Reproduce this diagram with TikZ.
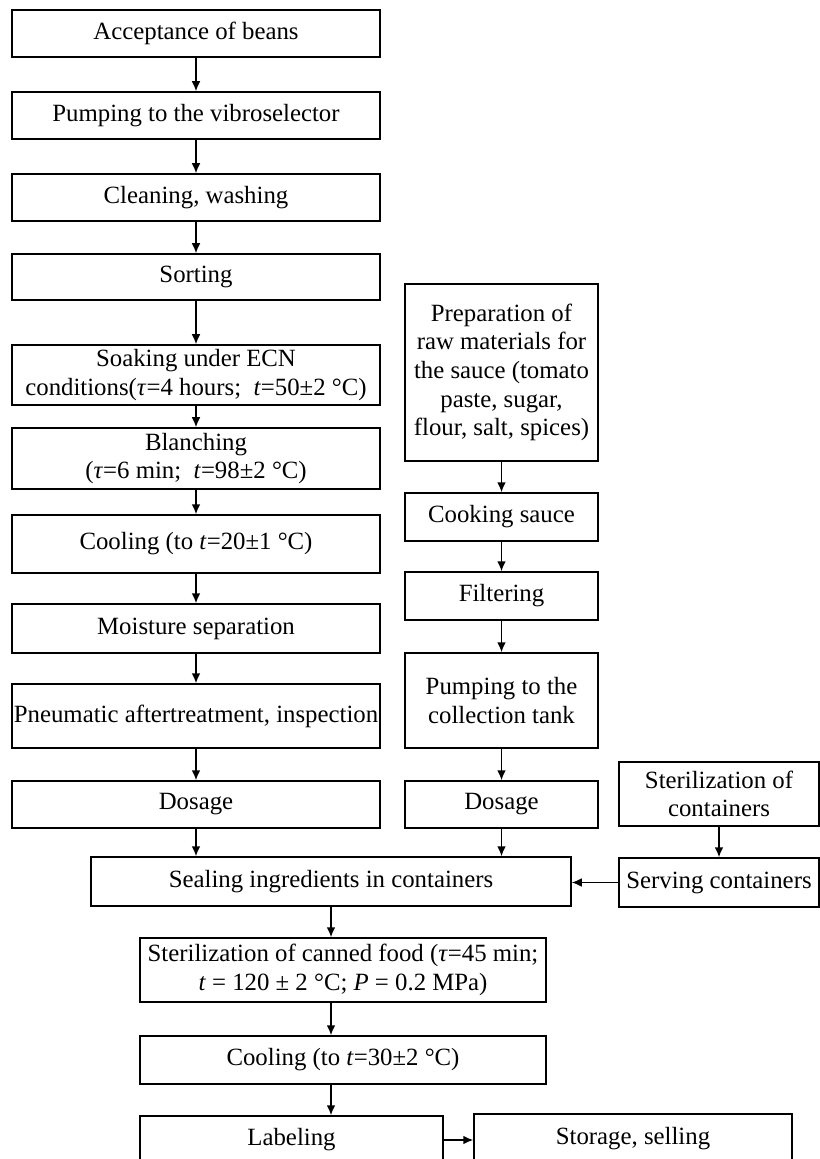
\documentclass[tikz,border=0pt]{standalone}
\usepackage{fontspec}
\setmainfont{Liberation Serif}
\usetikzlibrary{arrows.meta,positioning}

\begin{document}
\begin{tikzpicture}[
    x=0.5pt, y=-0.5pt,
    box/.style={draw, line width=0.75pt, align=center, font=\fontsize{12.4}{14.3}\selectfont,
                inner sep=0pt, minimum width=#1},
    box/.default=184pt,
    arr/.style={-{Latex[length=5pt,width=4.4pt]}, line width=0.75pt}
  ]
    \useasboundingbox (0,0) rectangle (819,1159);

    % === Beans line ===
    \node[box, minimum height=23.5pt] (accept) at (196,33.5) {Acceptance of beans};
    \node[box, minimum height=23.5pt] (pump) at (196,115.5) {Pumping to the vibroselector};
    \node[box, minimum height=23.5pt] (clean) at (196,197.5) {Cleaning, washing};
    \node[box, minimum height=23pt] (sort) at (196,277) {Sorting};
    \node[box, minimum height=30pt] (soak) at (196,375)
      {Soaking under ECN\\conditions(\textit{τ}=4 hours;\ \ \textit{t}=50±2 °C)};
    \node[box, minimum height=30.5pt] (blanch) at (196,458.5)
      {Blanching\\(\textit{τ}=6 min;\ \ \textit{t}=98±2 °C)};
    \node[box, minimum height=29pt] (cool) at (196,544) {Cooling (to \textit{t}=20±1 °C)};
    \node[box, minimum height=24.5pt] (moist) at (196,628.5) {Moisture separation};
    \node[box, minimum height=32pt] (pneum) at (196,716) {Pneumatic aftertreatment, inspection};
    \node[box, minimum height=23.5pt] (dosebean) at (196,804.5) {Dosage};

    \draw[arr] (accept) -- (pump);
    \draw[arr] (pump) -- (clean);
    \draw[arr] (clean) -- (sort);
    \draw[arr] (sort) -- (soak);
    \draw[arr] (soak) -- (blanch);
    \draw[arr] (blanch) -- (cool);
    \draw[arr] (cool) -- (moist);
    \draw[arr] (moist) -- (pneum);
    \draw[arr] (pneum) -- (dosebean);

    % === Sauce line ===
    \node[box=96.5pt, minimum height=88.5pt] (prep) at (501.5,372.5)
      {Preparation of\\raw materials for\\the sauce (tomato\\paste, sugar,\\flour, salt, spices)};
    \node[box=96.5pt, minimum height=24pt] (cook) at (501.5,517) {Cooking sauce};
    \node[box=96.5pt, minimum height=24pt] (filter) at (501.5,596) {Filtering};
    \node[box=96.5pt, minimum height=47.5pt] (tank) at (501.5,700.5)
      {Pumping to the\\collection tank};
    \node[box=96.5pt, minimum height=23.5pt] (dosesauce) at (501.5,804.5) {Dosage};

    \draw[arr] (prep) -- (cook);
    \draw[arr] (cook) -- (filter);
    \draw[arr] (filter) -- (tank);
    \draw[arr] (tank) -- (dosesauce);

    % === Containers ===
    \node[box=100pt, minimum height=32pt] (steril) at (719,794)
      {Sterilization of\\containers};
    \node[box=100pt, minimum height=24.5pt] (serve) at (719,882.5) {Serving containers};
    \draw[arr] (steril) -- (serve);

    % === Final steps ===
    \node[box=240pt, minimum height=24.5pt] (seal) at (331,881.5)
      {Sealing ingredients in containers};
    \node[box=203pt, minimum height=32pt] (sterfood) at (343,970)
      {Sterilization of canned food (\textit{τ}=45 min;\\\textit{t} = 120 ± 2 °C; \textit{P} = 0.2 MPa)};
    \node[box=203pt, minimum height=24pt] (cooltwo) at (343,1060)
      {Cooling (to \textit{t}=30±2 °C)};
    \node[box=151.5pt, minimum height=24pt] (label) at (291.5,1140) {Labeling};
    \node[box=159pt, minimum height=25pt] (store) at (633,1139) {Storage, selling};

    \draw[arr] (dosebean.south) -- (dosebean.south |- seal.north);
    \draw[arr] (dosesauce.south) -- (dosesauce.south |- seal.north);
    \draw[arr] (serve.west) -- (serve.west -| seal.east);
    \draw[arr] (seal.south) -- (seal.south |- sterfood.north);
    \draw[arr] (sterfood.south -| seal.south) -- (cooltwo.north -| seal.south);
    \draw[arr] (cooltwo.south -| seal.south) -- (label.north -| seal.south);
    \draw[arr] (label.east) -- (store.west |- label.east);
  \end{tikzpicture}
\end{document}
